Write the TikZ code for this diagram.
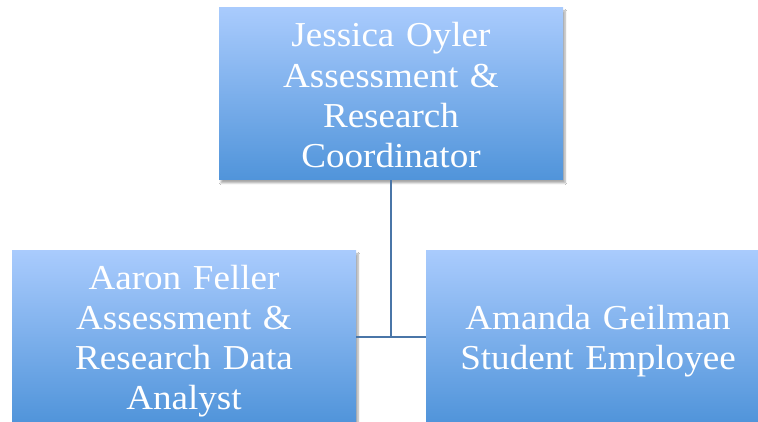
\documentclass[tikz,border=0pt]{standalone}
\usepackage{fontspec}
\setmainfont{Liberation Serif}[FakeStretch=1.06]
\usetikzlibrary{shadows.blur}
\definecolor{boxtop}{RGB}{169,203,253}
\definecolor{boxbottom}{RGB}{80,148,218}
\definecolor{linkblue}{RGB}{74,118,168}
% every text line gets the same box: 33pt above and 7pt below the baseline
\newcommand{\orgline}{\rule[-7pt]{0pt}{40pt}}
\tikzset{
  orgbox/.style={
    rectangle, minimum width=344pt, minimum height=172pt, inner sep=0pt,
    top color=boxtop, bottom color=boxbottom,
    text=white, align=center, text width=340pt,
    font=\fontsize{35}{40}\selectfont,
    blur shadow={shadow xshift=2pt, shadow yshift=-3pt, shadow blur steps=6, shadow opacity=35}
  },
  link/.style={draw=linkblue, line width=1.6pt}
}
\begin{document}
\begin{tikzpicture}[x=1pt,y=1pt]
  \useasboundingbox (0,0) rectangle (758,422);
  \clip (0,0) rectangle (758,422);
  \fill[white] (0,0) rectangle (758,422);
  \coordinate (hub) at (391,85);
  \node[orgbox] (boss) at (391,328)
    {\orgline Jessica Oyler\\\orgline Assessment \&\\\orgline Research\\\orgline Coordinator};
  \node[orgbox] (analyst) at (184,85)
    {\orgline Aaron Feller\\\orgline Assessment \&\\\orgline Research Data\\\orgline Analyst};
  \node[orgbox] (student) at (598,85)
    {\orgline Amanda Geilman\\\orgline Student Employee};
  % reporting lines
  \draw[link] (boss.south) -- (hub);
  \draw[link] (analyst.east) -- (student.west);
\end{tikzpicture}
\end{document}
